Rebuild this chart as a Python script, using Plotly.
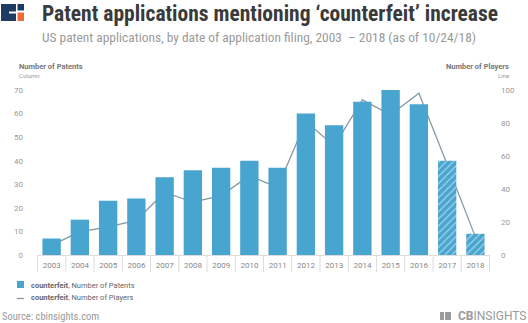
import plotly.graph_objects as go

years = [str(y) for y in range(2003, 2019)]
patents = [7, 15, 23, 24, 33, 36, 37, 40, 37, 60, 55, 65, 70, 64, 40, 9]
players = [6, 14, 17, 21, 38, 32, 36, 48, 41, 81, 66, 94, 85, 98, 55, 11]
hatch = ["", "", "", "", "", "", "", "", "", "", "", "", "", "", "/", "/"]
series_names = ["<b>counterfeit</b>, Number of Patents", "<b>counterfeit</b>, Number of Players"]

W, H = 528, 323
L, R, T, B = 37, 490, 90, 255

def px(x):
    return (x - L) / (R - L)

def py(y):
    return (B - y) / (B - T)

BLUE = "#48a5d0"
LINEC = "#7f95a3"
COND = "Roboto Condensed, Liberation Sans Narrow, DejaVu Sans Condensed, Roboto, sans-serif"

fig = go.Figure()
fig.add_trace(go.Bar(
    x=years, y=patents, yaxis="y2", name=series_names[0],
    marker=dict(color=BLUE, line=dict(width=0),
                pattern=dict(shape=hatch, fgcolor="white", bgcolor=BLUE,
                             size=5, solidity=0.25)),
))
fig.add_trace(go.Scatter(
    x=years, y=players, yaxis="y", mode="lines", name=series_names[1],
    line=dict(color=LINEC, width=1.2),
))

shapes = []
for i in range(len(years) + 1):
    shapes.append(dict(type="line", xref="x", yref="paper",
                       x0=i - 0.5, x1=i - 0.5, y0=py(255), y1=py(272),
                       line=dict(color="#dddddd", width=1)))
P = dict(xref="paper", yref="paper", line=dict(width=0))
shapes += [
    dict(type="rect", x0=px(1), x1=px(16), y0=py(21), y1=py(4), fillcolor="#1f3b63", **P),
    dict(type="rect", x0=px(9), x1=px(16), y0=py(13.5), y1=py(11.5), fillcolor="white", **P),
    dict(type="rect", x0=px(17.5), x1=px(24), y0=py(10.5), y1=py(4), fillcolor="#1f3b63", **P),
    dict(type="rect", x0=px(17.5), x1=px(24), y0=py(21), y1=py(12.5), fillcolor="#f06a35", **P),
    dict(type="rect", x0=px(440), x1=px(451), y0=py(320), y1=py(312), fillcolor="#9a9a9a", **P),
    dict(type="rect", x0=px(444), x1=px(445), y0=py(320), y1=py(312), fillcolor="white", **P),
    dict(type="rect", x0=px(17), x1=px(24), y0=py(288), y1=py(281), fillcolor=BLUE, **P),
    dict(type="line", xref="paper", yref="paper", x0=px(17), x1=px(24), y0=py(298.5), y1=py(298.5),
         line=dict(color=LINEC, width=1.2)),
]

ann = [
    dict(text="<b>Patent applications mentioning ‘counterfeit’ increase</b>",
         x=px(40), y=py(13), xanchor="left", yanchor="middle",
         font=dict(family=COND, size=21.5, color="#3a3a3a")),
    dict(text="US patent applications, by date of application filing, 2003  – 2018 (as of 10/24/18)",
         x=px(40), y=py(38), xanchor="left", yanchor="middle",
         font=dict(family=COND, size=13.4, color="#9a9a9a")),
    dict(text="<b>Number of Patents</b>", x=px(17), y=py(66), xanchor="left", yanchor="middle",
         font=dict(family="Roboto", size=7.5, color="#777777")),
    dict(text="Column", x=px(17), y=py(76), xanchor="left", yanchor="middle",
         font=dict(family="Roboto", size=6, color="#999999")),
    dict(text="<b>Number of Players</b>", x=px(511), y=py(66), xanchor="right", yanchor="middle",
         font=dict(family="Roboto", size=7.5, color="#777777")),
    dict(text="Line", x=px(511), y=py(76), xanchor="right", yanchor="middle",
         font=dict(family="Roboto", size=6, color="#999999")),
    dict(text=series_names[0], x=px(29), y=py(285), xanchor="left", yanchor="middle",
         font=dict(family="Roboto", size=7.5, color="#666666")),
    dict(text=series_names[1], x=px(29), y=py(297), xanchor="left", yanchor="middle",
         font=dict(family="Roboto", size=7.5, color="#666666")),
    dict(text="Source: cbinsights.com", x=px(0), y=py(316), xanchor="left", yanchor="middle",
         font=dict(family=COND, size=10.5, color="#9a9a9a")),
    dict(text="<b>CB</b>INSIGHTS", x=px(528), y=py(316), xanchor="right", yanchor="middle",
         font=dict(family="Roboto", size=12, color="#9a9a9a")),
]
for a in ann:
    a.update(xref="paper", yref="paper", showarrow=False)

fig.update_layout(
    width=W, height=H,
    margin=dict(l=L, r=W - R, t=T, b=H - B),
    paper_bgcolor="white", plot_bgcolor="white",
    showlegend=False, bargap=0.35,
    font=dict(family="Roboto", color="#888888", size=8),
    xaxis=dict(type="category", showgrid=False, zeroline=False,
               showline=True, linecolor="#dddddd", linewidth=1,
               ticks="", tickfont=dict(size=8, color="#888888"),
               ticklabelstandoff=2, fixedrange=True),
    yaxis=dict(side="right", range=[0, 100], tickvals=[0, 20, 40, 60, 80, 100],
               showgrid=False, zeroline=False, showline=False,
               tickfont=dict(size=8, color="#999999"), ticklabelstandoff=10),
    yaxis2=dict(side="left", overlaying="y", range=[0, 70],
                tickvals=[0, 10, 20, 30, 40, 50, 60, 70],
                showgrid=False, zeroline=False, showline=False,
                tickfont=dict(size=8, color="#999999"), ticklabelstandoff=13),
    shapes=shapes, annotations=ann,
)

fig.write_html("out.html")
